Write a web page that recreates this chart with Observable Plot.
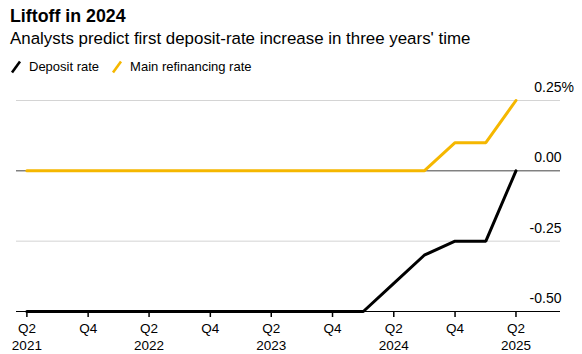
<!DOCTYPE html>
<html>
<head>
<meta charset="utf-8">
<script src="https://cdn.jsdelivr.net/npm/d3@7"></script>
<script src="https://cdn.jsdelivr.net/npm/@observablehq/plot@0.6"></script>
<style>
  html, body { margin: 0; padding: 0; background: #fff; }
  body { width: 582px; height: 354px; position: relative; overflow: hidden; font-family: "Liberation Sans", Arial, sans-serif; color: #000; }
  #title { position: absolute; left: 10px; top: 5px; font-size: 17.8px; font-weight: bold; line-height: 22px; white-space: nowrap; }
  #subtitle { position: absolute; left: 10px; top: 28px; font-size: 16.9px; line-height: 22px; white-space: nowrap; }
  #legend { position: absolute; left: 10px; top: 58px; font-size: 13px; line-height: 18px; white-space: nowrap; display: flex; align-items: center; }
  .sw { display: inline-block; width: 12px; height: 14px; margin-right: 7px; }
  .item { display: inline-flex; align-items: center; margin-right: 12px; }
  #chart { position: absolute; left: 0; top: 76px; }
</style>
</head>
<body>
<div id="title">Liftoff in 2024</div>
<div id="subtitle">Analysts predict first deposit-rate increase in three years' time</div>
<div id="legend"></div>
<div id="chart"></div>
<script>
// Data
const quarters = ["2021-04-01","2021-07-01","2021-10-01","2022-01-01","2022-04-01","2022-07-01","2022-10-01","2023-01-01","2023-04-01","2023-07-01","2023-10-01","2024-01-01","2024-04-01","2024-07-01","2024-10-01","2025-01-01","2025-04-01"];
const depositRate = [-0.5,-0.5,-0.5,-0.5,-0.5,-0.5,-0.5,-0.5,-0.5,-0.5,-0.5,-0.5,-0.40,-0.30,-0.25,-0.25,0];
const refiRate = [0,0,0,0,0,0,0,0,0,0,0,0,0,0,0.10,0.10,0.25];
const seriesNames = ["Deposit rate", "Main refinancing rate"];
const seriesColors = ["#000000", "#f5b700"];
const yTicks = [0.25, 0, -0.25, -0.5];
const yTickLabels = ["0.25", "0.00", "-0.25", "-0.50"];
const xTickDates = ["2021-04-01","2021-10-01","2022-04-01","2022-10-01","2023-04-01","2023-10-01","2024-04-01","2024-10-01","2025-04-01"];
const xTickLabels = ["Q2\n2021","Q4","Q2\n2022","Q4","Q2\n2023","Q4","Q2\n2024","Q4","Q2\n2025"];

const parse = d3.utcParse("%Y-%m-%d");
const rows = [];
quarters.forEach((q, i) => {
  rows.push({date: parse(q), value: depositRate[i], series: seriesNames[0]});
  rows.push({date: parse(q), value: refiRate[i], series: seriesNames[1]});
});
const xDomain = [parse("2021-03-01"), parse("2025-08-12")];
const tickDates = xTickDates.map(parse);
const labelMap = new Map(tickDates.map((d, i) => [+d, xTickLabels[i]]));
const yLabelRows = yTicks.map((v, i) => ({y: v, label: yTickLabels[i]}));

// Legend
const legend = document.getElementById("legend");
seriesNames.forEach((name, i) => {
  const item = document.createElement("span");
  item.className = "item";
  item.innerHTML = `<svg class="sw" viewBox="0 0 12 14"><line x1="2" y1="12.5" x2="10" y2="1.5" stroke="${seriesColors[i]}" stroke-width="2.6"/></svg><span>${name}</span>`;
  legend.appendChild(item);
});

const chart = Plot.plot({
  width: 582,
  height: 278,
  marginLeft: 16,
  marginRight: 22,
  marginTop: 24,
  marginBottom: 43,
  style: {fontFamily: "'Liberation Sans', Arial, sans-serif", fontSize: "13.5px", color: "#000", background: "#fff"},
  x: {type: "utc", domain: xDomain},
  y: {domain: [-0.5, 0.25], axis: null},
  color: {domain: seriesNames, range: seriesColors},
  marks: [
    Plot.ruleY([0.25, -0.25], {stroke: "#d4d4d4", strokeWidth: 1}),
    Plot.ruleY([0], {stroke: "#444", strokeWidth: 1}),
    Plot.ruleY([-0.5], {stroke: "#000", strokeWidth: 1.2}),
    Plot.axisX({ticks: tickDates, tickFormat: d => labelMap.get(+d), tickSize: 6, tickPadding: 4, fontSize: 13.5, lineHeight: 1.25, stroke: "#000", strokeWidth: 1.5, color: "#000"}),
    Plot.text(yLabelRows, {x: () => xDomain[1], y: "y", text: "label", textAnchor: "end", dy: -13, dx: 1, fontSize: 14, fill: "#000"}),
    Plot.text([{y: 0.25}], {x: () => xDomain[1], y: "y", text: () => "%", textAnchor: "start", dy: -13, dx: 1, fontSize: 14, fill: "#000"}),
    Plot.line(rows, {x: "date", y: "value", z: "series", stroke: "series", strokeWidth: 3, strokeLinejoin: "miter"})
  ]
});
document.getElementById("chart").appendChild(chart);
</script>
</body>
</html>
